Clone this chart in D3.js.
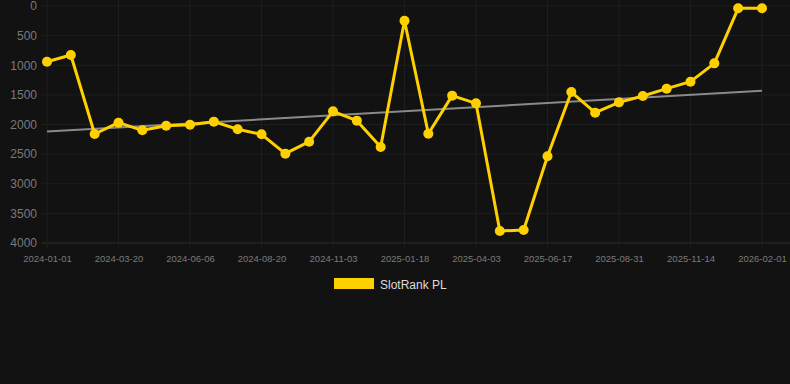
<!DOCTYPE html>
<html>
<head>
<meta charset="utf-8">
<script src="https://cdn.jsdelivr.net/npm/d3@7"></script>
<style>
  html, body { margin: 0; padding: 0; background: #121212; }
  svg { display: block; font-family: "Liberation Sans", Arial, sans-serif; }
</style>
</head>
<body>
<svg id="chart"></svg>
<script>
// SlotRank PL rank over time (lower rank number = better, axis reversed)

const W = 790, H = 384;
const PLOT = { left: 47, right: 762, top: 6, bottom: 243 };

// Sample dates (x categories)
const dates = [
  '2024-01-01', '2024-01-27', '2024-02-23', '2024-03-20', '2024-04-15', '2024-05-11',
  '2024-06-06', '2024-07-01', '2024-07-26', '2024-08-20', '2024-09-14', '2024-10-09',
  '2024-11-03', '2024-11-28', '2024-12-23', '2025-01-18', '2025-02-12', '2025-03-09',
  '2025-04-03', '2025-04-28', '2025-05-23', '2025-06-17', '2025-07-12', '2025-08-06',
  '2025-08-31', '2025-09-25', '2025-10-20', '2025-11-14', '2025-12-10', '2026-01-06',
  '2026-02-01'
];

// Rank values
const ranks = [
  940, 827, 2160, 1969, 2098, 2020, 2003, 1952, 2081, 2166, 2492, 2290,
  1778, 1935, 2380, 248, 2155, 1513, 1643, 3797, 3780, 2537, 1452, 1800,
  1626, 1519, 1395, 1277, 968, 39, 39
];

// Trend line end values (first and last date)
const trend = [2120, 1430];

const yTicks = [0, 500, 1000, 1500, 2000, 2500, 3000, 3500, 4000];
const xTickLabels = [
  '2024-01-01', '2024-03-20', '2024-06-06', '2024-08-20', '2024-11-03', '2025-01-18',
  '2025-04-03', '2025-06-17', '2025-08-31', '2025-11-14', '2026-02-01'
];

const seriesName = 'SlotRank PL';
const GOLD = '#ffd000';

const svg = d3.select('#chart').attr('width', W).attr('height', H);

const x = d3.scalePoint().domain(dates).range([PLOT.left, PLOT.right]);
const y = d3.scaleLinear().domain([0, 4000]).range([PLOT.top, PLOT.bottom]);

// Horizontal grid
svg.append('g')
  .selectAll('line')
  .data(yTicks)
  .join('line')
  .attr('x1', 42).attr('x2', W)
  .attr('y1', d => y(d)).attr('y2', d => y(d))
  .attr('stroke', d => d === 4000 ? '#2c2c2c' : '#1e1e1e')
  .attr('stroke-width', 1);

// Vertical grid at tick labels
svg.append('g')
  .selectAll('line')
  .data(xTickLabels)
  .join('line')
  .attr('x1', d => x(d)).attr('x2', d => x(d))
  .attr('y1', 0).attr('y2', PLOT.bottom + 6)
  .attr('stroke', '#1e1e1e')
  .attr('stroke-width', 1);

// Y axis labels
const yAxis = d3.axisLeft(y).tickValues(yTicks).tickFormat(d3.format('d')).tickSize(0).tickPadding(0);
const yG = svg.append('g')
  .attr('transform', 'translate(37,0)')
  .call(yAxis);
yG.select('.domain').remove();
yG.selectAll('text')
  .attr('fill', '#7a7a7a')
  .style('font-size', '12px')
  .style('font-family', '"Liberation Sans", Arial, sans-serif');

// X axis labels
const xAxis = d3.axisBottom(x).tickValues(xTickLabels).tickSize(0).tickPadding(0);
const xG = svg.append('g')
  .attr('transform', `translate(0,${PLOT.bottom + 12})`)
  .call(xAxis);
xG.select('.domain').remove();
xG.selectAll('text')
  .attr('fill', '#7a7a7a')
  .style('font-size', '9.5px')
  .style('font-family', '"Liberation Sans", Arial, sans-serif');

// Trend line
svg.append('line')
  .attr('x1', x(dates[0])).attr('y1', y(trend[0]))
  .attr('x2', x(dates[dates.length - 1])).attr('y2', y(trend[1]))
  .attr('stroke', '#8a8a8a')
  .attr('stroke-width', 2);

// Series line
const data = dates.map((d, i) => ({ date: d, rank: ranks[i] }));
svg.append('path')
  .datum(data)
  .attr('fill', 'none')
  .attr('stroke', GOLD)
  .attr('stroke-width', 3)
  .attr('stroke-linejoin', 'round')
  .attr('d', d3.line().x(d => x(d.date)).y(d => y(d.rank)));

svg.append('g')
  .selectAll('circle')
  .data(data)
  .join('circle')
  .attr('cx', d => x(d.date))
  .attr('cy', d => y(d.rank))
  .attr('r', 5)
  .attr('fill', GOLD);

// Legend
const legend = svg.append('g').attr('transform', 'translate(334,278)');
legend.append('rect')
  .attr('width', 40).attr('height', 11)
  .attr('fill', GOLD);
legend.append('text')
  .attr('x', 46).attr('y', 11)
  .attr('fill', '#dddddd')
  .style('font-size', '12px')
  .text(seriesName);
</script>
</body>
</html>
